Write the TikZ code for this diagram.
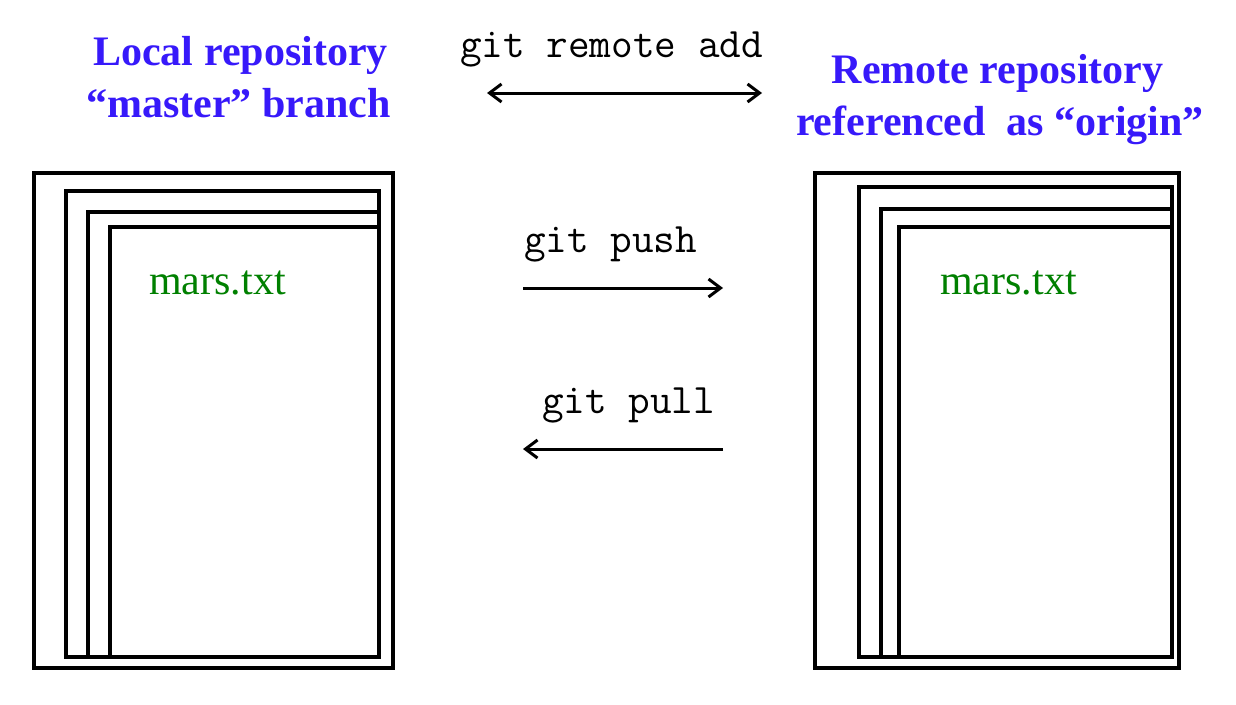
\documentclass[tikz,border=0pt]{standalone}
\usepackage{fontspec}
\setmainfont{Liberation Serif}
\usetikzlibrary{arrows.meta}
\definecolor{headblue}{RGB}{55,25,250}
\definecolor{filegreen}{RGB}{0,128,0}
\tikzset{
  frame/.style={draw=black, line width=3.2pt},
  heading/.style={inner sep=0pt, anchor=base, text=headblue, font=\fontsize{42}{52}\selectfont\bfseries},
  cmd/.style={inner sep=0pt, anchor=base west, font=\fontsize{42}{44}\selectfont\ttfamily},
  fname/.style={inner sep=0pt, anchor=base west, text=filegreen, font=\fontsize{42}{50}\selectfont},
  conn/.style={line width=3pt, -{Straight Barb[length=12pt,width=18pt]}},
  dconn/.style={line width=3pt, {Straight Barb[length=12pt,width=18pt]}-{Straight Barb[length=12pt,width=18pt]}},
}
\begin{document}
\begin{tikzpicture}[x=1pt,y=-1pt]
\useasboundingbox (0,0) rectangle (1236,704);
% left repository
\draw[frame] (34,173) rectangle (393,668);
\draw[frame] (66,191) rectangle (379,657);
\draw[frame] (88,212) rectangle (379,657);
\draw[frame] (110,227) rectangle (379,657);
% right repository
\draw[frame] (815,173) rectangle (1179,668);
\draw[frame] (859,187) rectangle (1172,657);
\draw[frame] (881,209) rectangle (1172,657);
\draw[frame] (899,227) rectangle (1172,657);
% headings
\node[heading] (l1) at (240.5,65) {Local repository};
\node[heading] (l2) at (238.5,117) {“master” branch};
\node[heading] (r1) at (997.5,83) {Remote repository};
\node[heading] (r2) at (1000,135) {referenced~~as “origin”};
% files
\node[fname] (lf) at (149,294) {mars.txt};
\node[fname] (rf) at (940,294) {mars.txt};
% commands
\node[cmd] (cadd) at (460,57) {git remote add};
\node[cmd] (cpush) at (524,252) {git push};
\node[cmd] (cpull) at (542,413) {git pull};
% connector end points
\coordinate (addL) at (487,93);
\coordinate (addR) at (762,93);
\coordinate (pushA) at (523,288);
\coordinate (pushB) at (723,288);
\coordinate (pullA) at (723,449);
\coordinate (pullB) at (523,449);
\draw[dconn] (addL) -- (addR);
\draw[conn] (pushA) -- (pushB);
\draw[conn] (pullA) -- (pullB);
\end{tikzpicture}
\end{document}
